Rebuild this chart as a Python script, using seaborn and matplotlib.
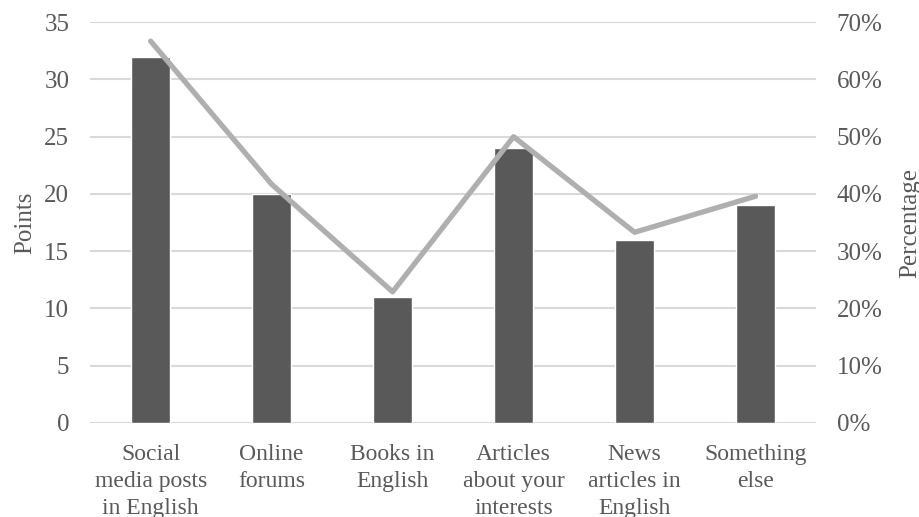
import pandas as pd
import numpy as np
import matplotlib.pyplot as plt
import seaborn as sns
from matplotlib.ticker import PercentFormatter

categories = ["Social\nmedia posts\nin English", "Online\nforums", "Books in\nEnglish",
              "Articles\nabout your\ninterests", "News\narticles in\nEnglish", "Something\nelse"]
points = [32, 20, 11, 24, 16, 19]
percentage = [0.667, 0.417, 0.229, 0.500, 0.333, 0.396]

text_color = "#595959"
bar_color = "#595959"
line_color = "#afafaf"
grid_color = "#d9d9d9"

sns.set_theme(style="white")
plt.rcParams["font.family"] = ["Liberation Serif", "DejaVu Serif"]
plt.rcParams["text.color"] = text_color
plt.rcParams["axes.labelcolor"] = text_color
plt.rcParams["xtick.color"] = text_color
plt.rcParams["ytick.color"] = text_color

df = pd.DataFrame({"category": categories, "points": points, "percentage": percentage})

fig, ax = plt.subplots(figsize=(9.2, 5.17), dpi=100)
fig.subplots_adjust(left=0.098, right=0.887, top=0.957, bottom=0.182)

sns.barplot(data=df, x="category", y="points", color=bar_color, saturation=1,
            width=0.32, ax=ax, zorder=2)
ax.set_ylim(0, 35)
ax.set_yticks(np.arange(0, 36, 5))
ax.yaxis.grid(True, color=grid_color, linewidth=1.5, zorder=0)
ax.set_axisbelow(True)
ax.set_xlabel("")
ax.set_ylabel("Points", fontsize=18, labelpad=6)
ax.tick_params(axis="y", labelsize=18, length=0, pad=15)
ax.tick_params(axis="x", labelsize=17, length=0, pad=15)
for lbl in ax.get_xticklabels():
    lbl.set_linespacing(1.38)
for s in ax.spines.values():
    s.set_visible(False)

ax2 = ax.twinx()
sns.lineplot(data=df, x="category", y="percentage", color=line_color, linewidth=3.8,
             ax=ax2, sort=False, zorder=3)
ax2.set_ylim(0, 0.70)
ax2.set_yticks(np.arange(0, 0.71, 0.1))
ax2.yaxis.set_major_formatter(PercentFormatter(1.0, decimals=0))
ax2.set_ylabel("Percentage", fontsize=18, labelpad=12)
ax2.tick_params(axis="y", labelsize=18, length=0, pad=15)
ax2.grid(False)
for s in ax2.spines.values():
    s.set_visible(False)

ax.set_xlim(-0.5, len(categories) - 0.5)

fig.savefig("out.png", dpi=100)
